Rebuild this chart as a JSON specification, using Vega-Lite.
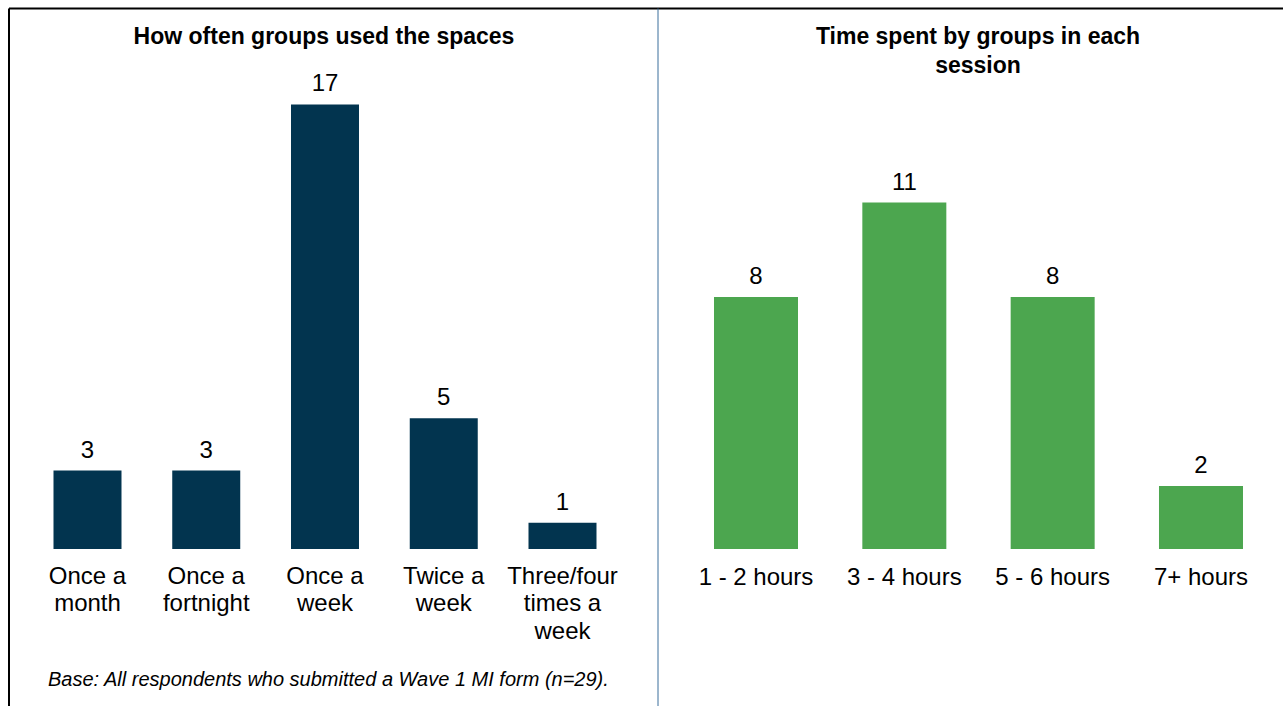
{
  "$schema": "https://vega.github.io/schema/vega-lite/v6.json",
  "padding": {"left": 8.5, "top": 8, "right": 0, "bottom": 0},
  "background": "white",
  "config": {"view": {"stroke": null}, "font": "Liberation Sans"},
  "spacing": 0,
  "hconcat": [
    {
      "width": 649,
      "height": 698,
      "title": {"text": "How often groups used the spaces", "font": "Liberation Sans", "fontSize": 23, "fontWeight": "bold", "color": "black", "anchor": "middle", "frame": "group", "baseline": "alphabetic", "offset": -59, "dx": -9},
      "data": {"values": [
        {"category": "Once a\nmonth", "count": 3},
        {"category": "Once a\nfortnight", "count": 3},
        {"category": "Once a\nweek", "count": 17},
        {"category": "Twice a\nweek", "count": 5},
        {"category": "Three/four\ntimes a\nweek", "count": 1}
      ]},
      "layer": [
        {
          "mark": {"type": "bar", "color": "#02344f"},
          "encoding": {
            "x": {"field": "category", "type": "nominal", "sort": null,
              "scale": {"paddingInner": 0.4274, "paddingOuter": 0.4463, "align": 0.4245},
              "axis": {"orient": "bottom", "offset": -157, "domain": false, "ticks": false, "tickSize": 0, "grid": false,
                "labelAngle": 0, "labelFontSize": 24, "labelFont": "Liberation Sans", "labelColor": "black",
                "labelBaseline": "alphabetic", "labelPadding": 34, "labelLineHeight": 27.5, "labelLimit": 0,
                "labelOverlap": false, "labelBound": false, "labelExpr": "split(datum.label, '\\n')",
                "title": "Base: All respondents who submitted a Wave 1 MI form (n=29).",
                "titleFont": "Liberation Sans", "titleFontSize": 20, "titleFontStyle": "italic", "titleFontWeight": "normal",
                "titleColor": "black", "titleX": 39, "titleY": 136, "titleAlign": "left", "titleBaseline": "alphabetic", "titleAngle": 0}},
            "y": {"field": "count", "type": "quantitative",
              "scale": {"domain": [-6.004, 20.69], "nice": false, "zero": false},
              "axis": {"orient": "left", "domain": true, "domainColor": "black", "domainWidth": 2, "labels": false, "ticks": false, "grid": false, "title": null}},
            "y2": {"datum": 0}
          }
        },
        {
          "mark": {"type": "text", "baseline": "alphabetic", "dy": -13, "fontSize": 24, "font": "Liberation Sans", "color": "black"},
          "encoding": {
            "x": {"field": "category", "type": "nominal", "sort": null,
              "axis": {"orient": "top", "domain": true, "domainColor": "black", "domainWidth": 2, "labels": false, "ticks": false, "grid": false, "title": null}},
            "y": {"field": "count", "type": "quantitative"},
            "text": {"field": "count", "type": "quantitative"}
          }
        }
      ],
      "resolve": {"axis": {"x": "independent"}}
    },
    {
      "width": 625,
      "height": 698,
      "title": {"text": ["Time spent by groups in each", "session"], "font": "Liberation Sans", "fontSize": 23, "fontWeight": "bold", "color": "black", "anchor": "middle", "frame": "group", "baseline": "alphabetic", "lineHeight": 29, "offset": -88, "dx": 8},
      "data": {"values": [
        {"duration": "1 - 2 hours", "count": 8},
        {"duration": "3 - 4 hours", "count": 11},
        {"duration": "5 - 6 hours", "count": 8},
        {"duration": "7+ hours", "count": 2}
      ]},
      "layer": [
        {
          "mark": {"type": "bar", "color": "#4ca64f"},
          "encoding": {
            "x": {"field": "duration", "type": "nominal", "sort": null,
              "scale": {"paddingInner": 0.4337, "paddingOuter": 0.3236, "align": 0.5885},
              "axis": {"orient": "bottom", "offset": -157, "domain": false, "ticks": false, "tickSize": 0, "grid": false,
                "labelAngle": 0, "labelFontSize": 24, "labelFont": "Liberation Sans", "labelColor": "black",
                "labelBaseline": "alphabetic", "labelPadding": 35, "labelLimit": 0,
                "labelOverlap": false, "labelBound": false, "title": null}},
            "y": {"field": "count", "type": "quantitative",
              "scale": {"domain": [-4.984, 17.175], "nice": false, "zero": false},
              "axis": {"orient": "left", "domain": true, "domainColor": "#3a6e9c", "domainWidth": 1, "labels": false, "ticks": false, "grid": false, "title": null}},
            "y2": {"datum": 0}
          }
        },
        {
          "mark": {"type": "text", "baseline": "alphabetic", "dy": -13, "fontSize": 24, "font": "Liberation Sans", "color": "black"},
          "encoding": {
            "x": {"field": "duration", "type": "nominal", "sort": null,
              "axis": {"orient": "top", "domain": true, "domainColor": "black", "domainWidth": 2, "labels": false, "ticks": false, "grid": false, "title": null}},
            "y": {"field": "count", "type": "quantitative"},
            "text": {"field": "count", "type": "quantitative"}
          }
        }
      ],
      "resolve": {"axis": {"x": "independent"}}
    }
  ]
}
